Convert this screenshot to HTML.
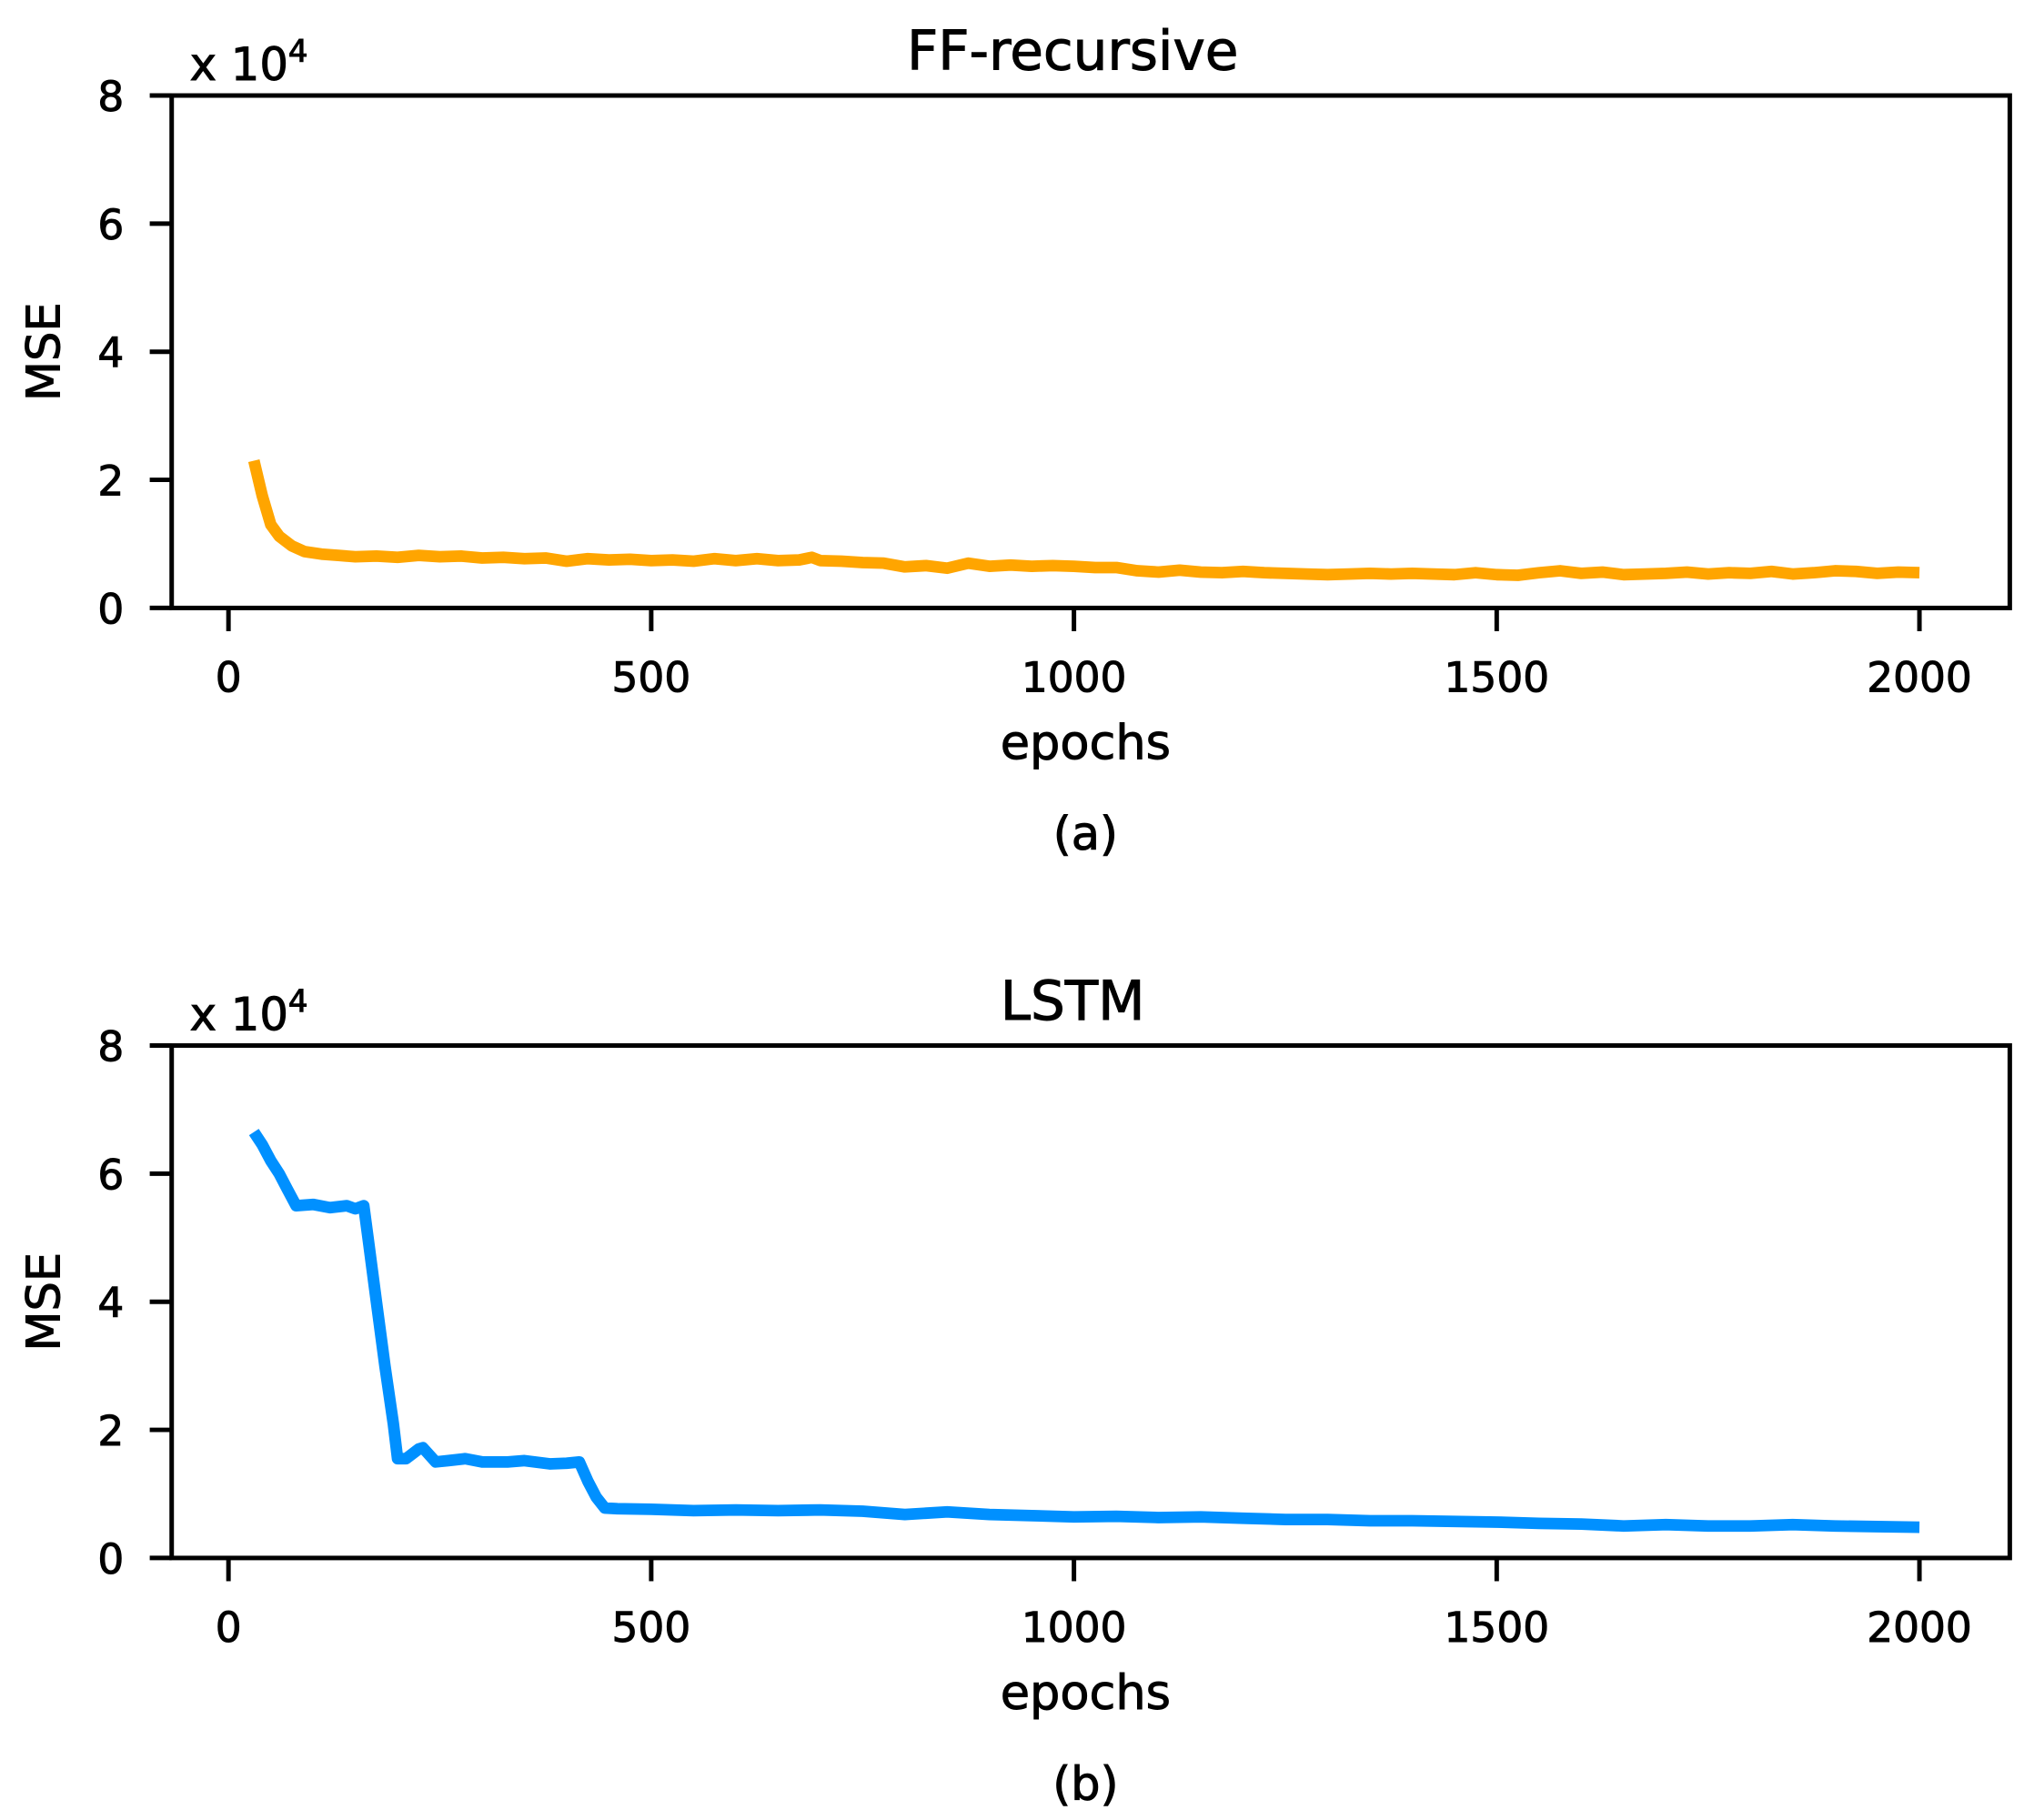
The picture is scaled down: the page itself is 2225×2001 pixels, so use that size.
<!DOCTYPE html>
<html><head><meta charset="utf-8">
<style>
html,body{margin:0;padding:0;background:#fff;}
svg{display:block;}
text{font-family:"DejaVu Sans","Liberation Sans",sans-serif;fill:#000;stroke:#000;stroke-width:0.7;}
</style></head>
<body>
<svg id="fig" width="2225" height="2001" viewBox="0 0 1568 1410" preserveAspectRatio="none" xmlns="http://www.w3.org/2000/svg">
<rect width="1568" height="1410" fill="#fff"/>
</svg>
<script>
const ffEpochs = [30,40,50,60,75,90,110,130,150,175,200,225,250,275,300,325,350,375,400,425,450,475,500,525,550,575,600,625,650,675,690,700,725,750,775,800,825,850,875,900,925,950,975,1000,1025,1050,1075,1100,1125,1150,1175,1200,1225,1250,1275,1300,1325,1350,1375,1400,1425,1450,1475,1500,1525,1550,1575,1600,1625,1650,1675,1700,1725,1750,1775,1800,1825,1850,1875,1900,1925,1950,1975,2000];
const ffValues = [2.3,1.75,1.3,1.12,0.97,0.88,0.84,0.82,0.8,0.81,0.79,0.82,0.8,0.81,0.78,0.79,0.77,0.78,0.73,0.77,0.75,0.76,0.74,0.75,0.73,0.77,0.74,0.77,0.74,0.75,0.79,0.74,0.73,0.71,0.7,0.64,0.66,0.62,0.7,0.65,0.67,0.65,0.66,0.65,0.63,0.63,0.58,0.56,0.59,0.56,0.55,0.57,0.55,0.54,0.53,0.52,0.53,0.54,0.53,0.54,0.53,0.52,0.55,0.52,0.51,0.55,0.58,0.54,0.56,0.52,0.53,0.54,0.56,0.53,0.55,0.54,0.57,0.53,0.55,0.58,0.57,0.54,0.56,0.55];
const lstmEpochs = [30,40,50,60,70,80,100,120,140,150,160,165,175,185,195,200,210,225,230,245,260,280,300,330,350,380,400,415,425,435,445,460,500,550,600,650,700,750,800,850,900,950,1000,1050,1100,1150,1200,1250,1300,1350,1400,1450,1500,1550,1600,1650,1700,1750,1800,1850,1900,1950,2000];
const lstmValues = [6.65,6.45,6.2,6.0,5.75,5.5,5.52,5.47,5.5,5.45,5.5,5.0,4.0,3.0,2.1,1.55,1.55,1.7,1.72,1.5,1.52,1.55,1.5,1.5,1.52,1.47,1.48,1.5,1.2,0.95,0.78,0.77,0.76,0.74,0.75,0.74,0.75,0.73,0.68,0.72,0.68,0.66,0.64,0.65,0.63,0.64,0.62,0.6,0.6,0.58,0.58,0.57,0.56,0.54,0.53,0.5,0.52,0.5,0.5,0.52,0.5,0.49,0.48];
const xTicks = [0,500,1000,1500,2000];
const yTicks = [0,2,4,6,8];
const titles = ["FF-recursive","LSTM"];
const captions = ["(a)","(b)"];

const NS = "http://www.w3.org/2000/svg";
const svg = document.getElementById('fig');
function mk(tag, attrs, parent){ const e=document.createElementNS(NS,tag); for(const k in attrs) e.setAttribute(k,attrs[k]); (parent||svg).appendChild(e); return e; }

const L=133, R=1557;
function xs(v){ return 177 + (v/2000)*(1487-177); }
function panel(idx, top, epochs, values, color){
  const bot = top + 397;
  const ys = v => bot - (v/8)*(bot-top);
  const g = mk('g',{});
  
  
  let d = '';
  epochs.forEach((e,i)=>{ d += (i?'L':'M') + xs(e).toFixed(1) + ' ' + ys(values[i]).toFixed(1) + ' '; });
  const p = mk('path',{d:d, fill:'none', stroke:color, 'stroke-width':9, 'stroke-linejoin':'round'}, g);
  
  
  const fr = mk('rect',{x:L,y:top,width:R-L,height:bot-top,fill:'none',stroke:'#000','stroke-width':3.5}, g);
  
  
  yTicks.forEach(t=>{
    const y = ys(t);
    mk('line',{x1:116,x2:L,y1:y,y2:y,stroke:'#000','stroke-width':3.5},g);
    const tx = mk('text',{x:96,y:y+12,'font-size':32,'text-anchor':'end'},g);
    tx.textContent = t;
    
    
  });
  xTicks.forEach(t=>{
    const x = xs(t);
    mk('line',{x1:x,x2:x,y1:bot,y2:bot+18,stroke:'#000','stroke-width':3.5},g);
    const tx = mk('text',{x:x,y:bot+65,'font-size':32,'text-anchor':'middle'},g);
    tx.textContent = t;
    
    
  });
  const ti = mk('text',{x:831,y:top-20,'font-size':42,'text-anchor':'middle'},g);
  ti.textContent = titles[idx];
  
  
  const ex = mk('text',{x:147,y:top-12,'font-size':35},g);
  ex.innerHTML = 'x 10<tspan dy="-14" font-size="24">4</tspan>';
  
  
  const yl = mk('text',{x:0,y:0,'font-size':36,'text-anchor':'middle',transform:'translate(46,'+((top+bot)/2)+') rotate(-90)'},g);
  yl.textContent = 'MSE';
  
  
  const xl = mk('text',{x:841,y:bot+117,'font-size':37,'text-anchor':'middle'},g);
  xl.textContent = 'epochs';
  
  
  const cp = mk('text',{x:841,y:bot+187,'font-size':36,'text-anchor':'middle'},g);
  cp.textContent = captions[idx];
  
  
}
panel(0, 74, ffEpochs, ffValues, '#FFA500');
panel(1, 810, lstmEpochs, lstmValues, '#0090FF');
</script>
</body></html>
